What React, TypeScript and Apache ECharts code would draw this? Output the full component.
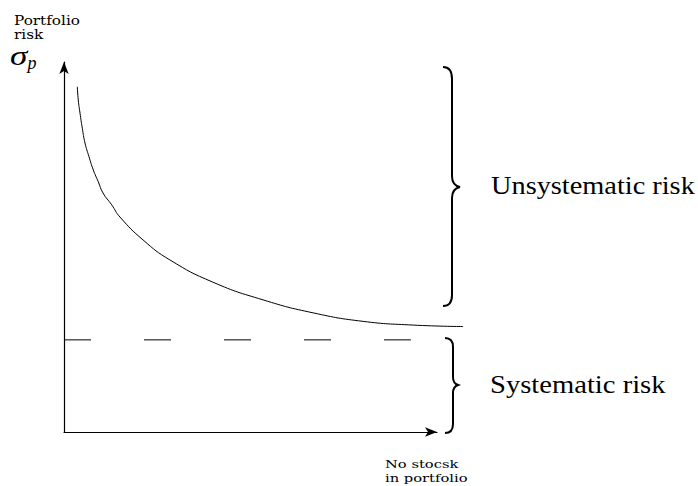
import React, { useEffect, useRef } from "react";
import * as echarts from "echarts";

// Curve: portfolio risk vs. number of stocks
const curveX = [3.57, 3.83, 4.29, 4.91, 5.63, 6.70, 7.86, 9.20, 10.46, 12.79, 15.0, 21.2, 28.4, 39.9, 53.4, 66.8, 80.2, 93.6, 107.0];
const curveY = [93.3, 89.7, 86.2, 82.1, 78.1, 74.4, 70.8, 67.6, 64.6, 61.4, 58.1, 51.9, 46.5, 40.5, 35.7, 32.2, 29.9, 28.9, 28.5];
// Systematic risk level (dashed line)
const systematicX = [0, 93.0];
const systematicLevel = 24.9;

const yLabelLines = ["Portfolio", "risk"];
const xLabelLines = ["No stocsk", "in portfolio"];
const unsysLabel = "Unsystematic risk";
const sysLabel = "Systematic risk";

const BRACE1 =
  "M443,67 C449,67 452,71 452,79 L452,176 C452,182 455,186 460,187 C455,188 452,192 452,198 L452,295 C452,303 449,306 443,306";
const BRACE2 =
  "M445,338 C450,338 453,341 453,347 L453,377 C453,381 455,384 458,385 C455,386 453,389 453,393 L453,424 C453,430 450,433 445,433";

echarts.graphic.registerShape("brace1", echarts.graphic.extendPath(BRACE1, {}));
echarts.graphic.registerShape("brace2", echarts.graphic.extendPath(BRACE2, {}));

const SERIF = "'Liberation Serif', serif";
const SMALL = "'DejaVu Serif', serif";

// plot frame
const G_LEFT = 64, G_TOP = 62, G_RIGHT = 261, G_BOTTOM = 54;
const W = 698;
const PLOT_W = W - G_LEFT - G_RIGHT;
// wider invisible frame (same scale) so the curve may run past the axis arrow
const WIDE_RIGHT = 215;
const WIDE_MAX = (100 * (W - G_LEFT - WIDE_RIGHT)) / PLOT_W;

export default function App() {
  const ref = useRef<HTMLDivElement>(null);
  useEffect(() => {
    if (!ref.current) return;
    const chart = echarts.init(ref.current, undefined, { renderer: "svg" });
    const axisCommon = {
      type: "value" as const,
      min: 0,
      max: 100,
      axisLine: {
        show: true,
        symbol: ["none", "arrow"],
        symbolSize: [7, 12],
        lineStyle: { color: "#000", width: 1.2 },
      },
      axisTick: { show: false },
      axisLabel: { show: false },
      splitLine: { show: false },
    };
    const hidden = {
      type: "value" as const,
      min: 0,
      axisLine: { show: false },
      axisTick: { show: false },
      axisLabel: { show: false },
      splitLine: { show: false },
    };
    chart.setOption({
      animation: false,
      backgroundColor: "#fff",
      grid: [
        { left: G_LEFT, top: G_TOP, right: G_RIGHT, bottom: G_BOTTOM },
        { left: G_LEFT, top: G_TOP, right: WIDE_RIGHT, bottom: G_BOTTOM },
      ],
      xAxis: [
        { ...axisCommon, gridIndex: 0 },
        { ...hidden, gridIndex: 1, max: WIDE_MAX },
      ],
      yAxis: [
        { ...axisCommon, gridIndex: 0 },
        { ...hidden, gridIndex: 1, max: 100 },
      ],
      series: [
        {
          type: "line",
          xAxisIndex: 1,
          yAxisIndex: 1,
          data: curveX.map((x, i) => [x, curveY[i]]),
          smooth: 0.5,
          showSymbol: false,
          lineStyle: { color: "#000", width: 1 },
        },
        {
          type: "line",
          xAxisIndex: 0,
          yAxisIndex: 0,
          data: systematicX.map((x) => [x, systematicLevel]),
          showSymbol: false,
          lineStyle: { color: "#000", width: 1, type: [27, 53] },
        },
      ],
      graphic: [
        { type: "brace1", shape: {}, style: { stroke: "#000", lineWidth: 2, fill: null } },
        { type: "brace2", shape: {}, style: { stroke: "#000", lineWidth: 2, fill: null } },
        {
          type: "text", x: 491, y: 185.5, scaleX: 1.09,
          style: { text: unsysLabel, fontFamily: SERIF, fontSize: 26, fill: "#000", align: "left", verticalAlign: "middle" },
        },
        {
          type: "text", x: 490, y: 384.5, scaleX: 1.1,
          style: { text: sysLabel, fontFamily: SERIF, fontSize: 26, fill: "#000", align: "left", verticalAlign: "middle" },
        },
        {
          type: "text", x: 14, y: 20.2, scaleX: 1.22,
          style: { text: yLabelLines[0], fontFamily: SMALL, fontSize: 12.5, fill: "#000", align: "left", verticalAlign: "middle" },
        },
        {
          type: "text", x: 14, y: 34.2, scaleX: 1.22,
          style: { text: yLabelLines[1], fontFamily: SMALL, fontSize: 12.5, fill: "#000", align: "left", verticalAlign: "middle" },
        },
        {
          type: "text", x: 10, y: 56, scaleX: 1.3,
          style: { text: "σ", fontFamily: SERIF, fontStyle: "italic", fontSize: 27, fill: "#000", align: "left", verticalAlign: "middle" },
        },
        {
          type: "text", x: 27.5, y: 63,
          style: { text: "p", fontFamily: SERIF, fontStyle: "italic", fontSize: 18, fill: "#000", align: "left", verticalAlign: "middle" },
        },
        {
          type: "text", x: 385, y: 463.8, scaleX: 1.28,
          style: { text: xLabelLines[0], fontFamily: SMALL, fontSize: 11.5, fill: "#000", align: "left", verticalAlign: "middle" },
        },
        {
          type: "text", x: 385, y: 477.8, scaleX: 1.28,
          style: { text: xLabelLines[1], fontFamily: SMALL, fontSize: 11.5, fill: "#000", align: "left", verticalAlign: "middle" },
        },
      ],
    });
    return () => chart.dispose();
  }, []);
  return (
    <div
      ref={ref}
      style={{ position: "fixed", left: 0, top: 0, width: 698, height: 486, background: "#fff" }}
    />
  );
}
